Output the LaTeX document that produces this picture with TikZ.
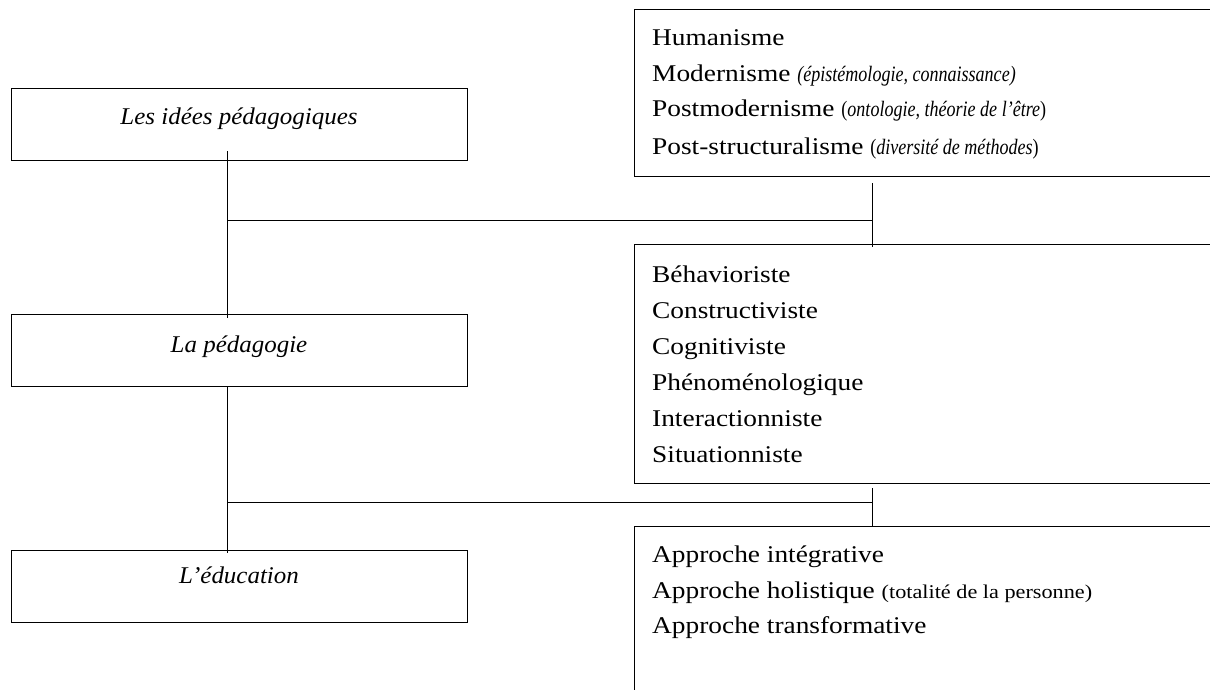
\documentclass[tikz,border=0pt]{standalone}
\usepackage{fontspec}
\setmainfont[FakeStretch=1.14]{Liberation Serif}
\newfontfamily\narrowit[FakeStretch=0.82]{Liberation Serif}
\newfontfamily\labelfont[FakeStretch=1.04]{Liberation Serif}
\begin{document}
\begin{tikzpicture}[x=1pt,y=-1pt,
  frame/.style={draw=black, line width=1.4pt, inner sep=0pt, anchor=north west},
  link/.style={draw=black, line width=0.9pt},
  label/.style={anchor=base, inner sep=0pt, font=\labelfont\fontsize{24}{28}\selectfont\itshape},
  entry/.style={anchor=base west, inner sep=0pt, font=\fontsize{24}{28}\selectfont}]
\path[use as bounding box] (0,0) rectangle (1210,690);
\clip (0,0) rectangle (1210,690);

% left column: the three levels
\node[frame, minimum width=456pt, minimum height=72pt] (ideas) at (11,88) {};
\node[frame, minimum width=456pt, minimum height=72pt] (peda) at (11,314) {};
\node[frame, minimum width=456pt, minimum height=72pt] (educ) at (11,550) {};
\node[label] (t-ideas) at (239,125) {Les idées pédagogiques};
\node[label] (t-peda) at (239,352) {La pédagogie};
\node[label] (t-educ) at (239,583) {L’éducation};

% right column: the contents of each level (open on the right)
\node[frame, minimum width=590pt, minimum height=167pt] (ideas-r) at (634,9) {};
\node[frame, minimum width=590pt, minimum height=239pt] (peda-r) at (634,244) {};
\node[frame, minimum width=590pt, minimum height=200pt] (educ-r) at (634,526) {};

\node[entry] (a1) at (652,46) {Humanisme};
\node[entry] (a2) at (652,82) {Modernisme {\narrowit\itshape\fontsize{22}{24}\selectfont(épistémologie, connaissance)}};
\node[entry] (a3) at (652,117) {Postmodernisme {\narrowit\fontsize{22}{24}\selectfont(\textit{ontologie, théorie de l’être})}};
\node[entry] (a4) at (652,154) {Post-structuralisme {\narrowit\fontsize{22}{24}\selectfont(\textit{diversité de méthodes})}};

\node[entry] (b1) at (652,282) {Béhavioriste};
\node[entry] (b2) at (652,318) {Constructiviste};
\node[entry] (b3) at (652,354) {Cognitiviste};
\node[entry] (b4) at (652,390) {Phénoménologique};
\node[entry] (b5) at (652,426) {Interactionniste};
\node[entry] (b6) at (652,462) {Situationniste};

\node[entry] (c1) at (652,562) {Approche intégrative};
\node[entry] (c2) at (652,598) {Approche holistique {\fontsize{19.5}{22}\selectfont(totalité de la personne)}};
\node[entry] (c3) at (652,633) {Approche transformative};

% connectors
\coordinate (j1) at (227,220);
\coordinate (k1) at (872,220);
\coordinate (j2) at (227,502);
\coordinate (k2) at (872,502);

\draw[link] ([yshift=10pt]ideas.south -| j1) -- ([yshift=-4pt]peda.north -| j1);
\draw[link] (j1) -- (k1);
\draw[link] ([yshift=-6pt]ideas-r.south -| k1) -- ([yshift=-3pt]peda-r.north -| k1);

\draw[link] (peda.south -| j2) -- ([yshift=-3pt]educ.north -| j2);
\draw[link] (j2) -- (k2);
\draw[link] ([yshift=-4pt]peda-r.south -| k2) -- ([yshift=-1pt]educ-r.north -| k2);
\end{tikzpicture}
\end{document}
